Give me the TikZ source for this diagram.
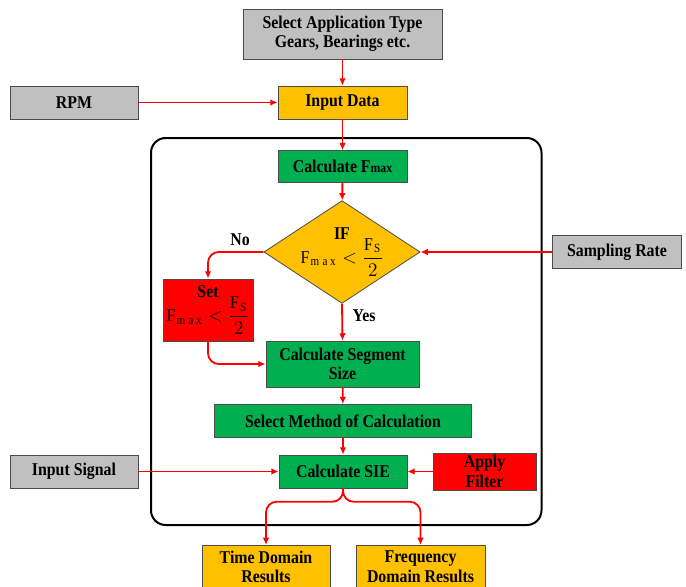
\documentclass[tikz,border=0pt]{standalone}
\usepackage{amsmath}
\usepackage{fontspec}
\setmainfont{Liberation Serif}[FakeStretch=0.88]
\usetikzlibrary{arrows.meta,shapes.geometric}

\definecolor{boxgray}{HTML}{C0C0C0}
\definecolor{boxgold}{HTML}{FFC000}
\definecolor{boxgreen}{HTML}{00B050}
\definecolor{boxred}{HTML}{FF0000}

\tikzset{
  box/.style={draw=black!70, line width=0.6pt, font=\fontsize{13.5}{14.5}\selectfont\bfseries,
    align=center, inner sep=1pt},
  graybox/.style={box, fill=boxgray},
  goldbox/.style={box, fill=boxgold},
  greenbox/.style={box, fill=boxgreen},
  redbox/.style={box, fill=boxred},
  flow/.style={draw=red, line width=1.35pt, -{Latex[length=5.5pt,width=5pt]}},
  lbl/.style={font=\fontsize{13.5}{14.5}\selectfont\bfseries, inner sep=0pt},
}

\begin{document}
\begin{tikzpicture}[x=0.75pt, y=-0.75pt]

\path [use as bounding box] (0,0) rectangle (686,586);

% FRAME
\draw [line width=1.5pt, rounded corners=11pt] (151,138) rectangle (541.5,525);

% INPUTS
\node [graybox, minimum width=149.25pt, minimum height=37.5pt] (app) at (342.5,34)
  {Select Application Type\\Gears, Bearings etc.};
\node [graybox, minimum width=96pt, minimum height=24.75pt] (rpm) at (74,102.5) {RPM};
\node [goldbox, minimum width=96.75pt, minimum height=24.75pt] (input) at (342.5,102.5) {Input Data};

% MAIN BLOCK
\node [greenbox, minimum width=96.75pt, minimum height=23.75pt] (fmax) at (342.5,166.5)
  {Calculate F{\fontsize{10}{10}\selectfont max}};
\node [box, fill=boxgold, shape=diamond, aspect=1.52, inner sep=0pt,
  minimum width=114pt, minimum height=75pt] (cond) at (342,252)
  {IF\\[-2pt] \mdseries $\mathrm{F}_{\mathrm{m\,a\,x}} < \dfrac{\mathrm{F}_{\mathrm{S}}}{2}$};
\node [graybox, minimum width=96.75pt, minimum height=24.75pt] (rate) at (617,252) {Sampling Rate};
\node [redbox, minimum width=67.5pt, minimum height=46.5pt] (set) at (208,310)
  {Set\\[-2pt] \mdseries $\mathrm{F}_{\mathrm{m\,a\,x}} < \dfrac{\mathrm{F}_{\mathrm{S}}}{2}$};
\node [greenbox, minimum width=114.75pt, minimum height=34.5pt] (segment) at (342.5,364)
  {Calculate Segment\\Size};
\node [greenbox, minimum width=192.75pt, minimum height=24.75pt] (method) at (343,421)
  {Select Method of Calculation};
\node [greenbox, minimum width=96pt, minimum height=24.75pt] (sie) at (343,471.5) {Calculate SIE};
\node [graybox, minimum width=96pt, minimum height=24.75pt] (signal) at (74,471.5) {Input Signal};
\node [redbox, minimum width=77.25pt, minimum height=27.75pt] (filter) at (484.5,471.5) {Apply\\Filter};

% OUTPUTS
\node [goldbox, anchor=north, minimum width=96pt, minimum height=32pt] (time) at (266,545)
  {Time Domain\\Results};
\node [goldbox, anchor=north, minimum width=96.75pt, minimum height=32pt] (freq) at (420.5,545)
  {Frequency\\Domain Results};

% LABELS
\node [lbl] (no) at (240,240) {No};
\node [lbl] (yes) at (364,316) {Yes};

% ARROWS
\draw [flow] (app) -- (input);
\draw [flow] (rpm) -- (input);
\draw [flow] (input) -- (fmax);
\draw [flow] (fmax) -- (cond);
\draw [flow] (rate) -- (cond);
\draw [flow, rounded corners=8pt] (cond.west) -| (set.north);
\draw [flow] (cond.south) -- (segment.north);
\draw [flow, rounded corners=8pt] (set.south) |- (segment.west);
\draw [flow] (segment) -- (method);
\draw [flow] (method) -- (sie);
\draw [flow] (signal) -- (sie);
\draw [flow] (filter) -- (sie);
\coordinate (split) at ([yshift=-10pt]sie.south);
\draw [flow, rounded corners=8pt] (sie.south) -- (split) -| (time.north);
\draw [flow, rounded corners=8pt] (sie.south) -- (split) -| (freq.north);

\end{tikzpicture}
\end{document}
